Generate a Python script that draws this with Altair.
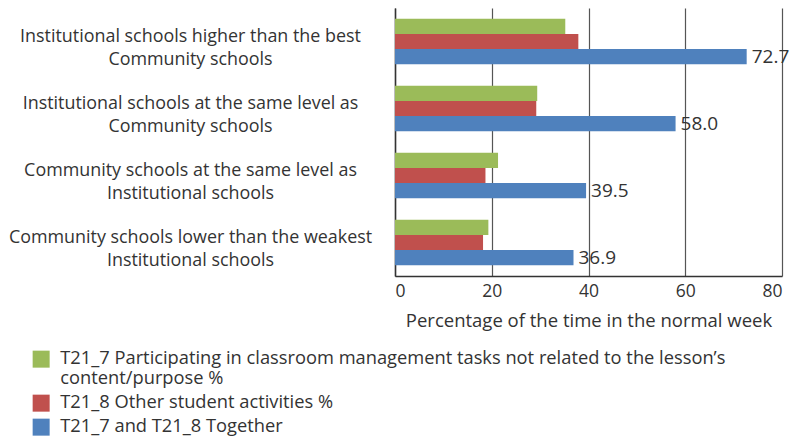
import altair as alt
import pandas as pd

categories = [
    "Institutional schools higher than the best|Community schools",
    "Institutional schools at the same level as|Community schools",
    "Community schools at the same level as|Institutional schools",
    "Community schools lower than the weakest|Institutional schools",
]
series = [
    "T21_7 Participating in classroom management tasks not related to the lesson\u2019s|content/purpose %",
    "T21_8 Other student activities %",
    "T21_7 and T21_8 Together",
]
green_vals = [35.2, 29.4, 21.3, 19.3]
red_vals = [37.9, 29.2, 18.7, 18.2]
together_vals = [72.7, 58.0, 39.5, 36.9]
colors = ["#9BBB59", "#C0504D", "#4F81BD"]

rows = []
for s, vals in zip(series, [green_vals, red_vals, together_vals]):
    for c, v in zip(categories, vals):
        rows.append({"category": c, "series": s, "value": v})
df = pd.DataFrame(rows)

FONT = "Open Sans"
TXT = "#333333"

y_enc = alt.Y(
    "category:N",
    sort=categories,
    scale=alt.Scale(paddingInner=0.32, paddingOuter=0.16),
    axis=alt.Axis(
        title=None,
        labelExpr="split(datum.label, '|')",
        labelAlign="center",
        labelBaseline="middle",
        labelPadding=205,
        labelFontSize=17.9,
        labelLineHeight=23,
        labelOffset=-5,
        labelLimit=400,
        labelColor=TXT,
        labelFont=FONT,
        ticks=False,
        domainColor="#333333",
        domainWidth=1.5,
    ),
)
yoff_enc = alt.YOffset(
    "series:N",
    sort=series,
    scale=alt.Scale(domain=series, paddingInner=0, paddingOuter=0),
)
x_enc = alt.X(
    "value:Q",
    scale=alt.Scale(domain=[0, 80], nice=False),
    axis=alt.Axis(
        values=[0, 20, 40, 60, 80],
        grid=True,
        gridColor="#555555",
        gridWidth=1.2,
        ticks=False,
        labelFontSize=17.5,
        labelPadding=6,
        labelColor=TXT,
        labelFont=FONT,
        title="Percentage of the time in the normal week",
        titleFontSize=18.5,
        titleFontWeight="normal",
        titleColor=TXT,
        titleFont=FONT,
        titlePadding=12,
        domainColor="#333333",
        domainWidth=1.5,
    ),
)

bars = alt.Chart(df).mark_bar().encode(
    y=y_enc,
    yOffset=yoff_enc,
    x=x_enc,
    color=alt.Color(
        "series:N",
        sort=series,
        scale=alt.Scale(domain=series, range=colors),
        legend=alt.Legend(
            title=None,
            orient="none",
            legendX=-363,
            legendY=342,
            direction="vertical",
            labelExpr="split(datum.label, '|')",
            labelFont=FONT,
            labelFontSize=18.3,
            labelColor=TXT,
            labelLimit=800,
            labelOffset=10,
            symbolType="M-1,-1H1V1H-1Z",
            symbolSize=289,
            symbolStrokeWidth=0,
            symbolOpacity=1,
            rowPadding=5,
            padding=0,
        ),
    ),
)

labels = alt.Chart(df).transform_filter(
    alt.datum.series == series[2]
).mark_text(
    align="left", baseline="middle", dx=5, fontSize=19, color=TXT, font=FONT
).encode(
    y=alt.Y("category:N", sort=categories),
    yOffset=yoff_enc,
    x=alt.X("value:Q"),
    text=alt.Text("value:Q", format=".1f"),
)

chart = (
    alt.layer(bars, labels)
    .properties(
        width=387,
        height=268,
        autosize=alt.AutoSizeParams(type="none"),
        padding={"left": 387, "top": 0, "right": 8, "bottom": 161},
    )
    .configure_view(stroke=None)
)

chart.save("out.html", embed_options={"renderer": "svg", "actions": False})
